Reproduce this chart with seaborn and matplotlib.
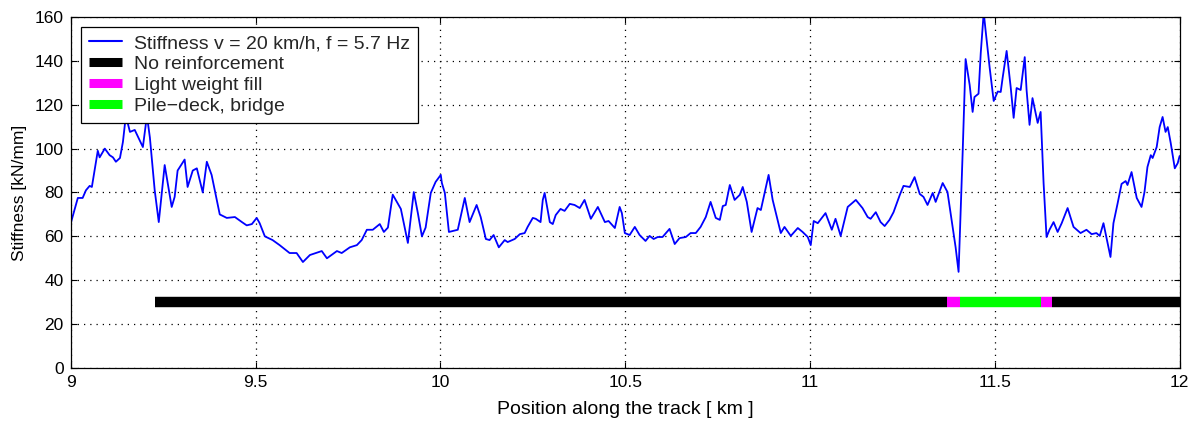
import numpy as np
import pandas as pd
import matplotlib
matplotlib.use("Agg")
import matplotlib.pyplot as plt
import seaborn as sns
from matplotlib.lines import Line2D

# ---- data ----
position_km = [
    9.000, 9.019, 9.032, 9.041, 9.051, 9.057, 9.073, 9.078, 9.092, 9.105, 9.114, 9.122, 9.133, 9.141,
    9.149, 9.160, 9.173, 9.195, 9.206, 9.214, 9.227, 9.238, 9.254, 9.273, 9.281, 9.289, 9.308, 9.316,
    9.330, 9.341, 9.357, 9.368, 9.381, 9.403, 9.422, 9.444, 9.463, 9.476, 9.490, 9.503, 9.511, 9.525,
    9.546, 9.565, 9.592, 9.611, 9.628, 9.647, 9.679, 9.693, 9.720, 9.733, 9.755, 9.774, 9.787, 9.801,
    9.817, 9.836, 9.847, 9.858, 9.871, 9.879, 9.893, 9.912, 9.928, 9.939, 9.950, 9.960, 9.974, 9.987,
    10.001, 10.004, 10.012, 10.023, 10.047, 10.066, 10.079, 10.098, 10.109, 10.123, 10.133, 10.144,
    10.158, 10.174, 10.182, 10.201, 10.215, 10.228, 10.236, 10.250, 10.258, 10.271, 10.277, 10.282,
    10.296, 10.304, 10.312, 10.325, 10.336, 10.350, 10.363, 10.377, 10.390, 10.407, 10.426, 10.445,
    10.455, 10.472, 10.485, 10.491, 10.499, 10.512, 10.526, 10.539, 10.555, 10.566, 10.577, 10.588,
    10.601, 10.620, 10.634, 10.647, 10.664, 10.677, 10.691, 10.704, 10.718, 10.731, 10.745, 10.756,
    10.764, 10.772, 10.783, 10.796, 10.810, 10.818, 10.829, 10.842, 10.858, 10.867, 10.888, 10.899,
    10.921, 10.931, 10.948, 10.967, 10.980, 10.994, 11.002, 11.010, 11.021, 11.042, 11.059, 11.069,
    11.083, 11.102, 11.124, 11.142, 11.156, 11.164, 11.178, 11.191, 11.202, 11.215, 11.226, 11.243,
    11.253, 11.270, 11.283, 11.297, 11.307, 11.318, 11.332, 11.340, 11.359, 11.372, 11.386, 11.394,
    11.402, 11.413, 11.421, 11.432, 11.440, 11.445, 11.456, 11.462, 11.470, 11.475, 11.486, 11.497,
    11.508, 11.516, 11.521, 11.532, 11.543, 11.551, 11.559, 11.570, 11.581, 11.586, 11.594, 11.602,
    11.616, 11.624, 11.632, 11.640, 11.648, 11.659, 11.670, 11.681, 11.697, 11.713, 11.732, 11.748,
    11.762, 11.775, 11.784, 11.794, 11.805, 11.813, 11.821, 11.832, 11.843, 11.854, 11.859, 11.870,
    11.884, 11.897, 11.905, 11.913, 11.922, 11.927, 11.938, 11.946, 11.954, 11.962, 11.968, 11.976,
    11.987, 11.995, 12.000,
]
stiffness = [
    66, 77.5, 77.5, 81, 83, 82.5, 99, 96, 100, 97, 96, 94, 95.7, 103,
    115, 107.6, 108.5, 100.7, 115, 105, 81, 66.5, 92.5, 73.4, 78, 90, 95, 82.5,
    90, 91, 80, 94, 88, 70, 68.4, 68.8, 66.5, 65, 65.6, 68.4, 66, 60,
    58.3, 56, 52.4, 52.4, 48.3, 51.5, 53.3, 50, 53.3, 52.4, 55, 56, 58.3, 63,
    63, 65.6, 62, 64, 79, 76.6, 72.5, 57, 80.2, 70.6, 60, 64, 79.8, 84.8,
    88, 84.3, 79.8, 62, 63, 77.5, 66.5, 74.3, 68.8, 58.8, 58.3, 60.6,
    55, 58.3, 57.4, 58.8, 61, 61.5, 64.3, 68.4, 68, 66.5, 76.6, 79.8,
    66.5, 65.6, 69.7, 72.5, 71.6, 74.8, 74.3, 72.9, 76.6, 68, 73.4, 66.5,
    67, 63.8, 73.4, 70.6, 61.5, 60.6, 64.3, 60.6, 57.9, 60.2, 58.8, 59.7,
    59.7, 63.4, 56.5, 59.2, 59.7, 61.5, 61.5, 64.3, 68.8, 75.7, 68.4, 67.5,
    73.8, 74.3, 83.4, 76.6, 78.9, 82.5, 75.7, 62, 72.9, 72, 88, 76.6,
    61.5, 64.3, 60.2, 63.8, 62, 59.7, 56, 67, 66, 70.6, 63, 68,
    60.2, 73.4, 76.6, 72.9, 68.8, 68, 71, 66.5, 64.7, 67.5, 71, 78.9,
    83, 82.5, 87, 79.3, 78, 74.3, 79.8, 75.7, 84.3, 80.2, 64.3, 55,
    43.8, 98, 140.8, 129, 116.7, 123.5, 125, 143.6, 162, 154, 137, 121.7,
    126, 125.8, 132, 144.5, 128, 114, 127.6, 126.7, 141.7, 126.7, 110.8, 123,
    111.7, 116.7, 84.3, 59.7, 63, 66.5, 62, 66, 72.9, 64.3, 61.5, 63,
    61, 61.5, 60.2, 66, 57, 50.6, 66, 74.8, 83.9, 85.2, 83.4, 89.3,
    77.5, 73.4, 80.2, 91.6, 97, 95.7, 100.7, 109.8, 114.4, 107.6, 109.8, 102.5,
    91, 93.4, 96.6,
]

# reinforcement segments along the track (drawn at a constant level)
segment_start = [9.227, 11.370, 11.405, 11.625, 11.655]
segment_end = [11.370, 11.405, 11.625, 11.655, 12.000]
segment_type = ["No reinforcement", "Light weight fill", "Pile\u2212deck, bridge",
                "Light weight fill", "No reinforcement"]
segment_level = 30
type_colors = {"No reinforcement": "#000000",
               "Light weight fill": "#ff00ff",
               "Pile\u2212deck, bridge": "#00ff00"}

x_ticks = [9, 9.5, 10, 10.5, 11, 11.5, 12]
x_tick_labels = ["9", "9.5", "10", "10.5", "11", "11.5", "12"]
y_ticks = [0, 20, 40, 60, 80, 100, 120, 140, 160]

line_label = "Stiffness v = 20 km/h, f = 5.7 Hz"

# ---- plot ----
sns.set_theme(style="white")
plt.rcParams["font.family"] = ["Liberation Sans", "DejaVu Sans"]

fig = plt.figure(figsize=(12, 4.23), dpi=100)
ax = fig.add_axes([0.059, 0.130, 0.924, 0.830])

df = pd.DataFrame({"Position": position_km, "Stiffness": stiffness})
sns.lineplot(data=df, x="Position", y="Stiffness", ax=ax, color="#0000ff",
             linewidth=1.3, legend=False, estimator=None, sort=False)

for s, e, t in zip(segment_start, segment_end, segment_type):
    ax.hlines(segment_level, s, e, colors=type_colors[t], linewidth=7.5, zorder=3)

ax.set_xlim(9, 12)
ax.set_ylim(0, 160)
ax.set_xticks(x_ticks)
ax.set_xticklabels(x_tick_labels)
ax.set_yticks(y_ticks)
ax.grid(True, color="black", linestyle=(0, (1, 4)), linewidth=0.9)
for sp in ax.spines.values():
    sp.set_visible(True)
    sp.set_color("black")
    sp.set_linewidth(0.9)
ax.tick_params(direction="in", length=4, width=0.8, labelsize=12.5, colors="black",
               top=True, right=True, bottom=True, left=True, pad=5)
ax.set_xlabel("Position along the track [ km ]", fontsize=14, color="black", labelpad=8)
ax.set_ylabel("Stiffness [kN/mm]", fontsize=12.5, color="black", labelpad=6)

handles = [Line2D([0], [0], color="#0000ff", lw=1.5)]
labels = [line_label]
for t in ["No reinforcement", "Light weight fill", "Pile\u2212deck, bridge"]:
    handles.append(Line2D([0], [0], color=type_colors[t], lw=6.5, solid_capstyle="butt"))
    labels.append(t)
leg = ax.legend(handles, labels, loc="upper left", fontsize=14, frameon=True,
                fancybox=False, framealpha=1, edgecolor="black",
                bbox_to_anchor=(0.009, 0.972), borderaxespad=0.0,
                handlelength=1.7, labelspacing=0.17,
                borderpad=0.4, handletextpad=0.65)
leg.get_frame().set_linewidth(0.9)
leg.set_zorder(5)

fig.savefig("out.png", dpi=100, facecolor="white")
